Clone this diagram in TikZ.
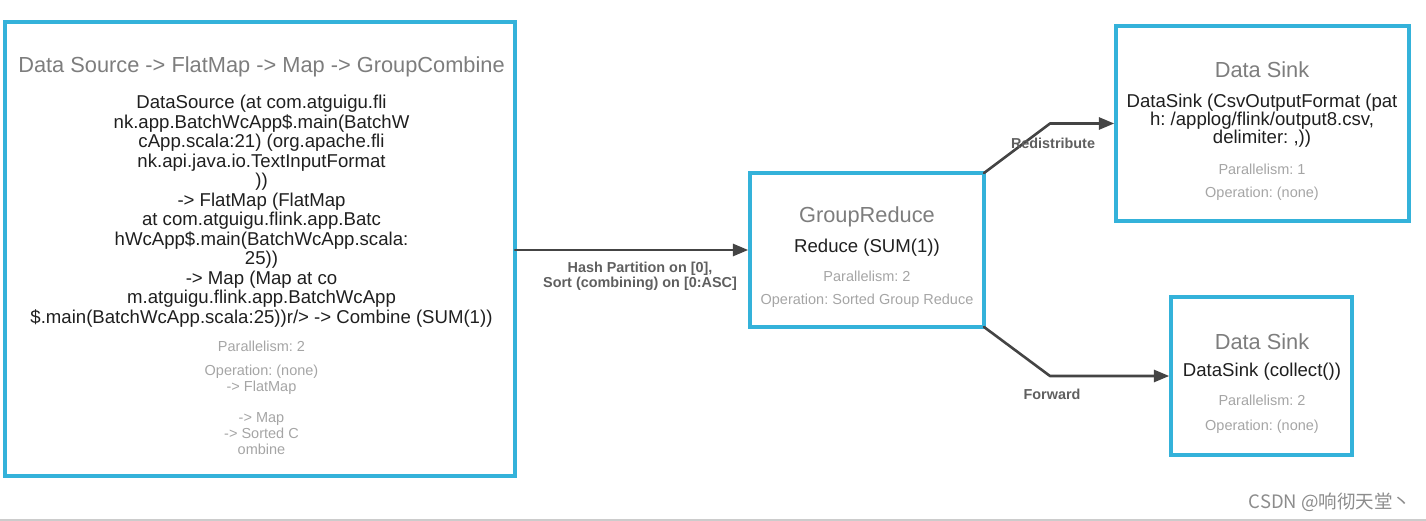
\documentclass[tikz,border=0pt]{standalone}
\usepackage{fontspec}
\setmainfont{Liberation Sans}
\newfontfamily\cjkwm{Noto Sans CJK SC}
\usetikzlibrary{arrows}
\frenchspacing
\definecolor{boxcyan}{RGB}{52,178,218}
\definecolor{titlegray}{RGB}{125,125,125}
\definecolor{infogray}{RGB}{165,165,165}
\definecolor{edgegray}{RGB}{68,68,68}
\definecolor{labelgray}{RGB}{95,95,95}
\newcommand{\titlesize}{\fontsize{21.8}{24}\selectfont}
\newcommand{\bodysize}{\fontsize{18.6}{19.5}\selectfont}
\newcommand{\sinkbodysize}{\fontsize{18.6}{18}\selectfont}
\newcommand{\infosize}{\fontsize{14.5}{16}\selectfont}
\newcommand{\edgesize}{\fontsize{14.4}{15}\selectfont\bfseries}

\begin{document}
\begin{tikzpicture}[line cap=round,line join=round,>=triangle 45,x=1pt,y=-1pt,
  opbox/.style={draw=boxcyan,line width=4pt,line cap=butt,line join=miter,inner sep=0pt,outer sep=0pt},
  optitle/.style={inner sep=0pt,text=titlegray,font=\titlesize},
  opbody/.style={inner sep=0pt,align=center,text=black!88,font=\bodysize},
  opinfo/.style={inner sep=0pt,align=center,text=infogray,font=\infosize},
  shiplabel/.style={inner sep=0pt,align=center,text=labelgray,font=\edgesize},
  ship/.style={->,draw=edgegray,line width=2.6pt,shorten >=2pt}]
\useasboundingbox (0,0) rectangle (1426,521);
%\draw[red] (0,0) rectangle (1426,521);
\fill[black!20] (0,518.5) rectangle (1426,521);
% operators
\node[opbox,minimum width=510pt,minimum height=454pt] (src) at (260,249) {};
\node[opbox,minimum width=234pt,minimum height=154pt] (red) at (867,250) {};
\node[opbox,minimum width=293pt,minimum height=195pt] (sinkA) at (1262.5,123.5) {};
\node[opbox,minimum width=181pt,minimum height=158pt] (sinkB) at (1261.5,376) {};
\node[optitle] (srcT) at (261.5,67) {Data Source -> FlatMap -> Map -> GroupCombine};
\node[opbody] (srcB) at (261.5,211) {DataSource (at com.atguigu.fli\\nk.app.BatchWcApp\$.main(BatchW\\cApp.scala:21) (org.apache.fli\\nk.api.java.io.TextInputFormat\\))\\-> FlatMap (FlatMap\\at com.atguigu.flink.app.Batc\\hWcApp\$.main(BatchWcApp.scala:\\25))\\-> Map (Map at co\\m.atguigu.flink.app.BatchWcApp\\\$.main(BatchWcApp.scala:25))r/> -> Combine (SUM(1))};
\node[opinfo] (srcP) at (261.5,346) {Parallelism: 2};
\node[opinfo] (srcO) at (261.5,409.5) {Operation: (none)\\-> FlatMap\\[15pt]-> Map\\-> Sorted C\\ombine};
\node[optitle] (redT) at (867,217) {GroupReduce};
\node[opbody] (redB) at (867,248) {Reduce (SUM(1))};
\node[opinfo] (redP) at (867,276) {Parallelism: 2};
\node[opinfo] (redO) at (867,301) {Operation: Sorted Group Reduce};
\node[optitle] (sinkAT) at (1262,70) {Data Sink};
\node[opbody,font=\sinkbodysize] (sinkAB) at (1262,121) {DataSink (CsvOutputFormat (pat\\h: /applog/flink/output8.csv,\\delimiter: ,))};
\node[opinfo] (sinkAP) at (1262,169) {Parallelism: 1};
\node[opinfo] (sinkAO) at (1262,194) {Operation: (none)};
\node[optitle] (sinkBT) at (1262,342) {Data Sink};
\node[opbody] (sinkBB) at (1262,372) {DataSink (collect())};
\node[opinfo] (sinkBP) at (1262,400) {Parallelism: 2};
\node[opinfo] (sinkBO) at (1262,427) {Operation: (none)};
% connections
\coordinate (kA) at (1050,123.5);
\coordinate (kB) at (1050,376);
\draw[ship] (red.west -| src.east) -- (red.west);
\draw[ship] (red.north east) -- (kA) -- (sinkA.west);
\draw[ship] (red.south east) -- (kB) -- (sinkB.west);
\node[shiplabel] (lbHash) at (640,276) {Hash Partition on [0],\\Sort (combining) on [0:ASC]};
\node[shiplabel] (lbRedis) at (1053,143) {Redistribute};
\node[shiplabel] (lbFwd) at (1052,394) {Forward};
\node[inner sep=0pt,text=black!45,font=\cjkwm\fontsize{18.5}{20}\selectfont] (wm) at (1330,502) {CSDN @响彻天堂丶};
\end{tikzpicture}
\end{document}
